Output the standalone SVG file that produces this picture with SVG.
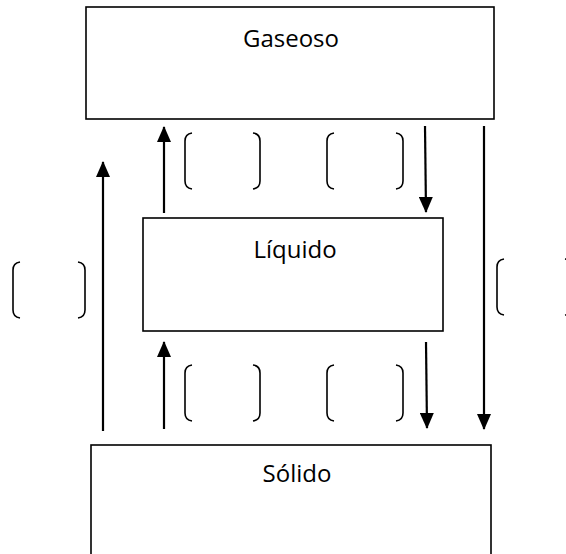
<svg xmlns="http://www.w3.org/2000/svg" width="566" height="554" viewBox="0 0 566 554">
<style>
.box{fill:#fff;stroke:#000;stroke-width:1.6}
.lbl{font-family:"Open Sans","Liberation Sans",sans-serif;font-size:24px;fill:#000;text-anchor:middle}
.ar{stroke:#000;stroke-width:2.2;fill:none;marker-end:url(#ah)}
.br{stroke:#000;stroke-width:1.6;fill:none}
</style>
<defs>
<marker id="ah" viewBox="0 0 16 14" refX="15" refY="7" markerWidth="16" markerHeight="14" orient="auto" markerUnits="userSpaceOnUse">
<path d="M0,0 L16,7 L0,14 z" fill="#000"/>
</marker>
<path id="bl" d="M7,0 Q0,1 0,8 L0,48 Q0,55 7,56"/>
<path id="bri" d="M-7,0 Q0,1 0,8 L0,48 Q0,55 -7,56"/>
</defs>
<rect width="566" height="554" fill="#fff"/>
<g id="gaseoso">
<rect class="box" x="86" y="7" width="408" height="112"/>
<text class="lbl" x="291" y="47">Gaseoso</text>
</g>
<g id="liquido">
<rect class="box" x="143" y="218" width="300" height="113"/>
<text class="lbl" x="295" y="258">Líquido</text>
</g>
<g id="solido">
<rect class="box" x="91" y="445" width="400" height="120"/>
<text class="lbl" x="297" y="482">Sólido</text>
</g>
<g id="connectors">
<line class="ar" x1="103" y1="431" x2="103" y2="162"/>
<line class="ar" x1="164" y1="213" x2="164" y2="127"/>
<line class="ar" x1="425" y1="126" x2="426" y2="212"/>
<line class="ar" x1="484" y1="126" x2="484" y2="429"/>
<line class="ar" x1="164" y1="429" x2="164" y2="342"/>
<line class="ar" x1="426" y1="342" x2="427" y2="428"/>
</g>
<g id="brackets" class="br">
<use href="#bl" x="185" y="133"/>
<use href="#bri" x="260" y="133"/>
<use href="#bl" x="327" y="133"/>
<use href="#bri" x="403" y="133"/>
<use href="#bl" x="185" y="365"/>
<use href="#bri" x="260" y="365"/>
<use href="#bl" x="327" y="365"/>
<use href="#bri" x="403" y="365"/>
<use href="#bl" x="13" y="262"/>
<use href="#bri" x="85" y="262"/>
<use href="#bl" x="497" y="259"/>
<use href="#bri" x="572" y="259"/>
</g>
</svg>
